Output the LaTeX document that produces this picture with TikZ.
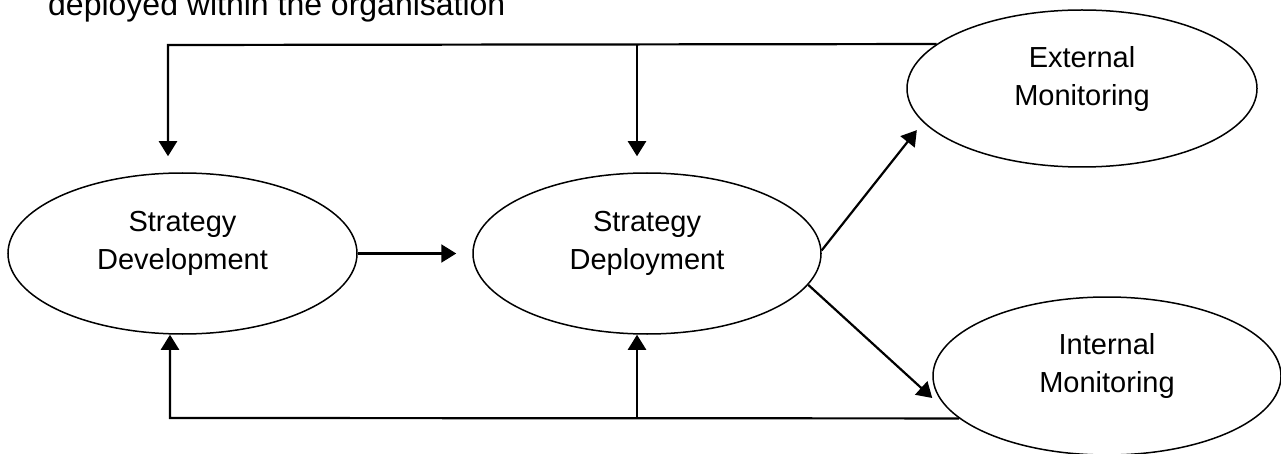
\documentclass[tikz,border=0pt]{standalone}
\usepackage{fontspec}
\setmainfont{Liberation Sans}
\usetikzlibrary{shapes.geometric,arrows.meta}
\begin{document}
\begin{tikzpicture}[x=1pt,y=-1pt,
  stage/.style={ellipse,draw,line width=1.5pt,inner sep=0pt,align=center,
    text depth=26pt,
    font=\fontsize{29}{38}\selectfont},
  link/.style={line width=2.2pt},
  arr/.style={link,-{Triangle[length=15pt,width=18pt]}}]
\useasboundingbox (0,0) rectangle (1281,454);

% caption line running off the top edge
\node[anchor=base west,inner sep=0pt,font=\fontsize{32}{38}\selectfont] (cap)
  at (48,16) {deployed within the organisation};

% the four stages
\node[stage,minimum width=349pt,minimum height=161pt] (sd)   at (182.5,253.5) {Strategy\\Development};
\node[stage,minimum width=348pt,minimum height=161pt] (sdep) at (647,253.5)   {Strategy\\Deployment};
\node[stage,minimum width=350pt,minimum height=157pt] (ext)  at (1082,88.5)   {External\\Monitoring};
\node[stage,minimum width=348pt,minimum height=158pt] (int)  at (1107,376)    {Internal\\Monitoring};

% corner and junction points of the feedback loops
\coordinate (tl) at (168,45);
\coordinate (tm) at (637,45);
\coordinate (bl) at (170,418);
\coordinate (bm) at (637,418);

% forward flow
\draw[arr,shorten >=16pt] (sd.east) -- (sdep.west);
\draw[arr,shorten >=10pt] (sdep.1) -- (ext.192.6);
\draw[arr] (sdep.-11) -- ([yshift=-22pt]int.west);

% feedback from external monitoring
\draw[arr,shorten >=16pt] (ext.163.6) -- (tl) -- (tl |- sd.north);
\draw[arr,shorten >=16pt] (tm) -- (tm |- sdep.north);

% feedback from internal monitoring
\draw[arr] (int.196) -- (bl) -- (bl |- sd.south);
\draw[arr] (bm) -- (bm |- sdep.south);
\end{tikzpicture}
\end{document}
